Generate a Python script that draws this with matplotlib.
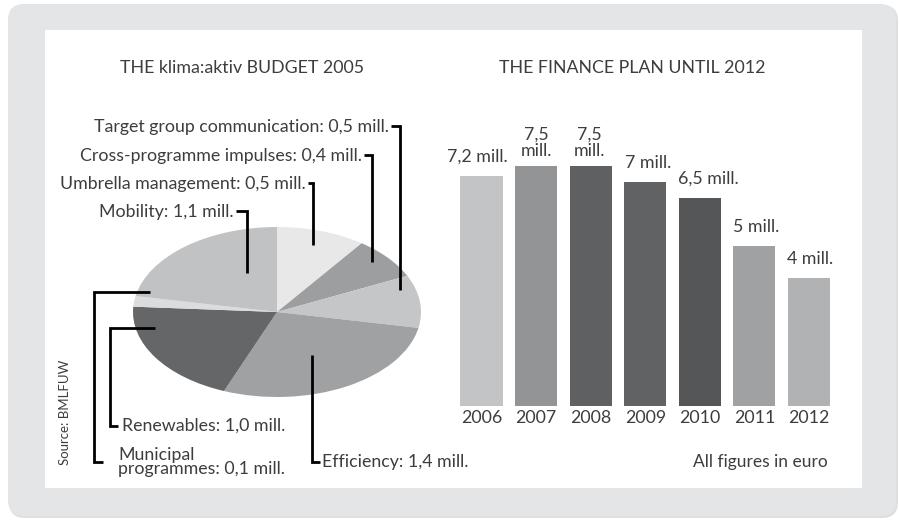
import matplotlib
matplotlib.use("Agg")
import matplotlib.pyplot as plt
from matplotlib.patches import FancyBboxPatch, Rectangle

plt.rcParams['font.family'] = ['Lato', 'DejaVu Sans']
plt.rcParams['font.weight'] = 'normal'

# ---- data ----
pie_labels = ["Umbrella management", "Cross-programme impulses", "Target group communication",
              "Efficiency", "Renewables", "Municipal programmes", "Mobility"]
pie_values = [0.5, 0.4, 0.5, 1.4, 1.0, 0.1, 1.1]
pie_colors = ["#e8e8e9", "#9d9ea0", "#c5c6c8", "#a0a1a3", "#656668", "#dcdcdd", "#c1c2c4"]

years = ["2006", "2007", "2008", "2009", "2010", "2011", "2012"]
plan_values = [7.2, 7.5, 7.5, 7.0, 6.5, 5.0, 4.0]
plan_labels = ["7,2 mill.", "7,5\nmill.", "7,5\nmill.", "7 mill.", "6,5 mill.", "5 mill.", "4 mill."]
bar_colors = ["#c3c4c6", "#939496", "#5f6062", "#616264", "#555658", "#a0a1a3", "#b1b2b4"]

W, H = 899, 520
fig = plt.figure(figsize=(W / 100, H / 100), dpi=100)
fig.patch.set_facecolor("white")

def fx(x):
    return x / W

def fy(y):
    return 1 - y / H

TXT = "#3d3d3d"
FS = 12.8

# ---- background panel ----
bg = fig.add_axes([0, 0, 1, 1])
bg.set_xlim(0, W)
bg.set_ylim(H, 0)
bg.axis("off")
bg.add_patch(FancyBboxPatch((9, 5), 889, 513, boxstyle="round,pad=0,rounding_size=16",
                            fc="#c9cacc", ec="none", alpha=0.6))
bg.add_patch(FancyBboxPatch((8, 4), 888, 512, boxstyle="round,pad=0,rounding_size=16",
                            fc="#e4e5e7", ec="none"))
bg.add_patch(Rectangle((45, 30), 817, 458, fc="white", ec="none"))

# ---- pie ----
pax = fig.add_axes([fx(133), fy(397), fx(288), 170 / H])
pax.pie(pie_values, colors=pie_colors, startangle=90, counterclock=False, radius=1,
        wedgeprops=dict(linewidth=0))
pax.set_aspect("auto")
pax.set_xlim(-1, 1)
pax.set_ylim(-1, 1)
pax.axis("off")

# ---- bars ----
bax = fig.add_axes([fx(443.3), fy(406), fx(847.2 - 443.3), 256 / H])
xs = list(range(len(years)))
bax.bar(xs, plan_values, width=0.77, color=bar_colors, linewidth=0)
bax.set_xlim(-0.7, 6.7)
bax.set_ylim(0, 8)
for s in bax.spines.values():
    s.set_visible(False)
bax.set_yticks([])
bax.set_xticks(xs)
bax.set_xticklabels(years, fontsize=FS, color=TXT)
bax.tick_params(axis="x", length=0, pad=3)
bax.patch.set_alpha(0)
label_dx = [-0.07, 0.0, -0.02, 0.05, 0.15, 0.03, 0.02]
for x, v, lab, dx in zip(xs, plan_values, plan_labels, label_dx):
    two = "\n" in lab
    bax.annotate(lab, (x + dx, v), xytext=(0, 5 if two else 8), textcoords="offset points",
                 ha="center", va="bottom", fontsize=FS, color=TXT,
                 linespacing=1.0)

# ---- overlay: titles, labels, leader lines ----
ov = fig.add_axes([0, 0, 1, 1])
ov.set_xlim(0, W)
ov.set_ylim(H, 0)
ov.axis("off")
ov.patch.set_alpha(0)

ov.text(242, 68, "THE klima:aktiv BUDGET 2005", ha="center", va="center", fontsize=FS, color=TXT)
ov.text(632, 68, "THE FINANCE PLAN UNTIL 2012", ha="center", va="center", fontsize=FS, color=TXT)

lw = 2.0
# top labels (right-aligned, leader goes right then down)
top_specs = [
    ("Target group communication: 0,5 mill.", 389, 127, 400, 290),
    ("Cross-programme impulses: 0,4 mill.", 362, 156, 372, 262),
    ("Umbrella management: 0,5 mill.", 306, 184, 313, 245),
    ("Mobility: 1,1 mill.", 234, 212, 247, 273),
]
for txt, xr, y, xl, yend in top_specs:
    ov.text(xr, y, txt, ha="right", va="center", fontsize=FS, color=TXT)
    ov.plot([xr + 2, xl, xl], [y - 1, y - 1, yend], color="black", lw=lw,
            solid_joinstyle="miter", solid_capstyle="butt")

# bottom-left labels
ov.plot([150, 94, 94, 103], [292, 292, 462, 462], color="black", lw=lw,
        solid_joinstyle="miter", solid_capstyle="butt")
ov.text(118, 462, "Municipal\nprogrammes: 0,1 mill.", ha="left", va="center",
        fontsize=FS, color=TXT, linespacing=0.9)
ov.plot([155, 110, 110, 118], [328, 328, 426, 426], color="black", lw=lw,
        solid_joinstyle="miter", solid_capstyle="butt")
ov.text(122, 426, "Renewables: 1,0 mill.", ha="left", va="center", fontsize=FS, color=TXT)
ov.plot([312, 312, 320], [355, 462, 462], color="black", lw=lw,
        solid_joinstyle="miter", solid_capstyle="butt")
ov.text(322, 462, "Efficiency: 1,4 mill.", ha="left", va="center", fontsize=FS, color=TXT)

ov.text(65, 412, "Source: BMLFUW", ha="center", va="center", rotation=90, fontsize=9.5, color=TXT)
ov.text(828, 462, "All figures in euro", ha="right", va="center", fontsize=12.5, color=TXT)

fig.savefig("out.png", dpi=100)
